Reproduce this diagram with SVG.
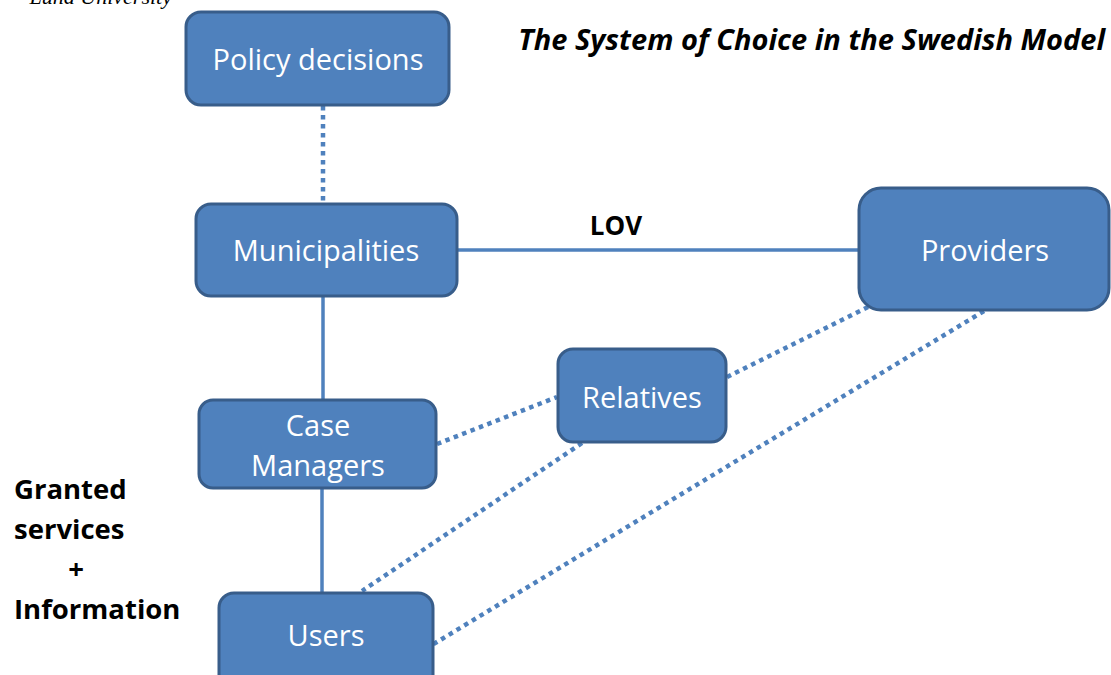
<svg xmlns="http://www.w3.org/2000/svg" width="1111" height="675" viewBox="0 0 1111 675">
<style>
.node rect{fill:#4F81BD;stroke:#385D8A;stroke-width:3}
.node text{fill:#fff;font-family:"Open Sans","Noto Sans",sans-serif;font-size:29px;text-anchor:middle}
.solid{stroke:#4F81BD;stroke-width:3.5;fill:none}
.dot{stroke:#4F81BD;stroke-width:4.5;stroke-dasharray:4.5 4.5;fill:none}
.lbl{font-family:"Open Sans","Noto Sans",sans-serif;font-weight:bold;fill:#000}
</style>
<rect width="1111" height="675" fill="#fff"/>
<text x="172" y="4" font-family="Liberation Serif,serif" font-style="italic" font-size="22" text-anchor="end">Lund University</text>
<text class="lbl" x="1105" y="50" font-size="29" font-style="italic" text-anchor="end">The System of Choice in the Swedish Model</text>
<g id="connectors">
<line class="dot" x1="323" y1="106" x2="323" y2="203"/>
<line class="solid" x1="458" y1="250" x2="858" y2="250"/>
<line class="solid" x1="323" y1="297" x2="323" y2="399"/>
<line class="solid" x1="322" y1="489" x2="322" y2="592"/>
<line class="dot" x1="437" y1="444" x2="557" y2="397"/>
<line class="dot" x1="727" y1="377" x2="868" y2="307"/>
<line class="dot" x1="582" y1="443" x2="362" y2="591"/>
<line class="dot" x1="984" y1="311" x2="432" y2="645"/>
</g>
<text class="lbl" x="616" y="235" font-size="26" text-anchor="middle">LOV</text>
<g class="lbl" font-size="27.5">
<text x="14" y="499">Granted</text>
<text x="14" y="539">services</text>
<text x="76" y="579" text-anchor="middle">+</text>
<text x="14" y="619">Information</text>
</g>
<g id="policy" class="node"><rect x="186" y="12" width="263" height="93" rx="15"/><text x="318" y="70">Policy decisions</text></g>
<g id="municipalities" class="node"><rect x="196" y="204" width="261" height="92" rx="15"/><text x="326" y="261">Municipalities</text></g>
<g id="providers" class="node"><rect x="859" y="188" width="250" height="122" rx="22"/><text x="985" y="261">Providers</text></g>
<g id="relatives" class="node"><rect x="558" y="349" width="168" height="93" rx="15"/><text x="642" y="408">Relatives</text></g>
<g id="case-managers" class="node"><rect x="199" y="400" width="237" height="88" rx="14"/><text x="318" y="436">Case</text><text x="318" y="476">Managers</text></g>
<g id="users" class="node"><rect x="219" y="593" width="214" height="100" rx="15"/><text x="326" y="646">Users</text></g>
</svg>
